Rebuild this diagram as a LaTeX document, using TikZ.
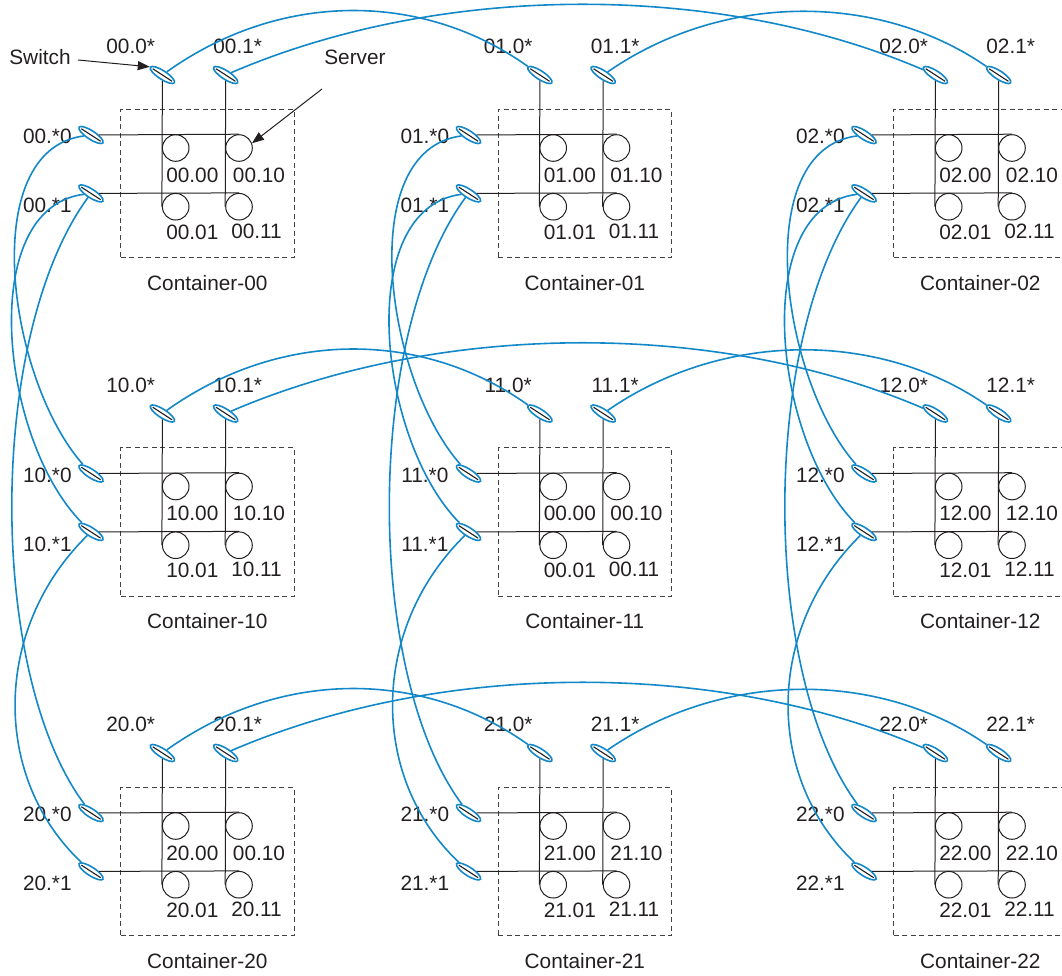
\documentclass[tikz,border=0pt]{standalone}
\usepackage{fontspec}
\setmainfont{Liberation Sans}
\usetikzlibrary{shapes.geometric,arrows.meta}
\definecolor{swblue}{RGB}{18,136,200}
\definecolor{ink}{RGB}{35,31,32}
\begin{document}
\begin{tikzpicture}[x=1pt,y=-1pt,
  lbl/.style={font=\fontsize{20.8}{25}\selectfont, text=ink, inner sep=0pt},
  srv/.style={circle, draw=ink, line width=1pt, minimum size=26.6pt, inner sep=0pt},
  sw/.style={ellipse, draw=swblue, fill=white, line width=1.6pt, minimum width=28.5pt, minimum height=8.5pt, inner sep=0pt, rotate=-33},
  swcore/.style={draw=ink, line width=1.1pt, shorten <=3.5pt, shorten >=3.5pt},
  wire/.style={draw=ink, line width=1pt},
  cbox/.style={draw=ink!85, dash pattern=on 5pt off 3.5pt, line width=1pt, inner sep=0pt, minimum width=173.3pt, minimum height=148.4pt},
  link/.style={draw=swblue, line width=1.6pt},
  pointer/.style={draw=ink, line width=1pt, -{Triangle[length=12pt,width=9pt]}}
]
\useasboundingbox (0,0) rectangle (1062,975);
\clip (0,0) rectangle (1062,975);

\foreach \rw/\cl/\ox/\oy/\p/\q in {0/0/0/0/00/00, 0/1/377.5/0/01/01, 0/2/773/0/02/02,
  1/0/0/338.5/10/10, 1/1/377.5/338.5/00/00, 1/2/773/338.5/12/12,
  2/0/0/678/20/00, 2/1/377.5/678/21/21, 2/2/773/678/22/22} {
\begin{scope}[shift={(\ox,\oy)}]
  \node[cbox] (box\rw\cl) at (207.35,183.5) {};
  \node[srv] (v\rw\cl a) at (175.7,148) {};
  \node[srv] (v\rw\cl b) at (239,148) {};
  \node[srv] (v\rw\cl c) at (175.7,206.7) {};
  \node[srv] (v\rw\cl d) at (239,206.7) {};
  \node[lbl] (t\rw\cl a) at (192.3,175) {\p.00};
  \node[lbl] (t\rw\cl b) at (259,175) {\q.10};
  \node[lbl] (t\rw\cl c) at (192.3,232.3) {\p.01};
  \node[lbl] (t\rw\cl d) at (256.5,231) {\p.11};
  \node[sw] (s\rw\cl x0) at (162.4,75) {};
  \node[sw] (s\rw\cl x1) at (225.7,75) {};
  \node[sw] (s\rw\cl y0) at (91,135) {};
  \node[sw] (s\rw\cl y1) at (91,193.4) {};
  \draw[wire] (s\rw\cl x0) -- (v\rw\cl c.west);
  \draw[wire] (s\rw\cl x1) -- (v\rw\cl d.west);
  \draw[wire] (s\rw\cl y0) -- (v\rw\cl b.north);
  \draw[wire] (s\rw\cl y1) -- (v\rw\cl d.north);
  \draw[swcore] (s\rw\cl x0.west) -- (s\rw\cl x0.east);
  \draw[swcore] (s\rw\cl x1.west) -- (s\rw\cl x1.east);
  \draw[swcore] (s\rw\cl y0.west) -- (s\rw\cl y0.east);
  \draw[swcore] (s\rw\cl y1.west) -- (s\rw\cl y1.east);
  \node[lbl] (l\rw\cl x0) at (130.7,46.7) {\rw\cl.0*};
  \node[lbl] (l\rw\cl x1) at (237.7,46.7) {\rw\cl.1*};
  \node[lbl] (l\rw\cl y0) at (47.3,136.7) {\rw\cl.*0};
  \node[lbl] (l\rw\cl y1) at (47.3,205.7) {\rw\cl.*1};
  \node[lbl] (c\rw\cl) at (207.3,282.7) {Container-\rw\cl};
\end{scope}
}

\foreach \rw/\oy in {0/0, 1/338.5, 2/678} {
  \draw[link] (s\rw0x0) .. controls (280,\oy-9) and (422,\oy-9) .. (s\rw1x0);
  \draw[link] (s\rw0x1) .. controls (442,\oy-18) and (719,\oy-18) .. (s\rw2x0);
  \draw[link] (s\rw1x1) .. controls (723,\oy-8) and (879,\oy-8) .. (s\rw2x1);
}
\foreach \cl/\ox in {0/0, 1/377.5, 2/773} {
  \draw[link] (s0\cl y0) .. controls (\ox-24,150) and (\ox+8,380) .. (s1\cl y0);
  \draw[link] (s0\cl y1) .. controls (\ox-24,208) and (\ox,440) .. (s1\cl y1);
  \draw[link] (s0\cl y1) .. controls (\ox-13,335) and (\ox-13,674) .. (s2\cl y0);
  \draw[link] (s1\cl y1) .. controls (\ox-8,629) and (\ox-8,778) .. (s2\cl y1);
}

\node[lbl] (swlbl) at (40,56.7) {Switch};
\coordinate (swtail) at (78,60);
\draw[pointer] (swtail) -- (s00x0.west);
\node[lbl] (srvlbl) at (355,57) {Server};
\coordinate (srvtail) at (322,89);
\draw[pointer] (srvtail) -- (v00b.20);
\end{tikzpicture}
\end{document}
